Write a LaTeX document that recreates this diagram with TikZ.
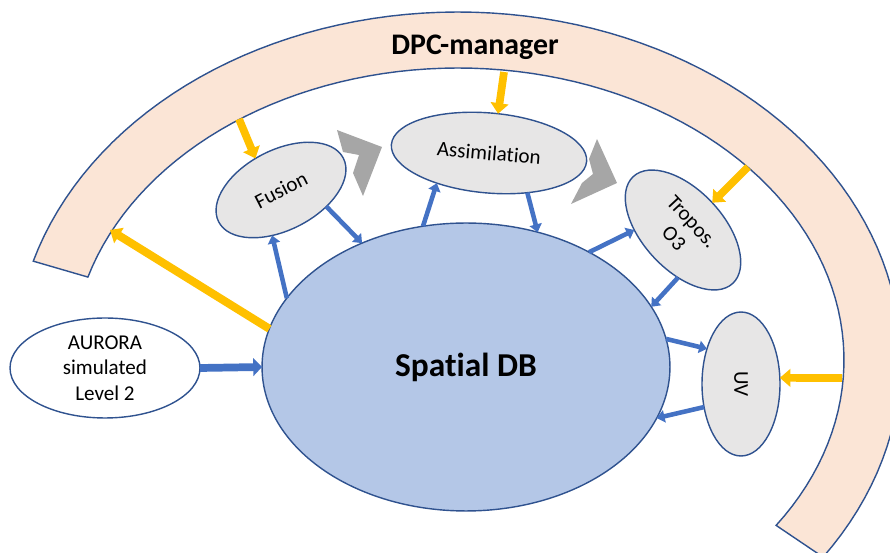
\documentclass[tikz,border=0pt]{standalone}
\usepackage{fontspec}
\setmainfont{Carlito}[Ligatures=NoCommon]
\usepackage{xcolor}
\definecolor{bandfill}  {HTML}{FBE5D6}
\definecolor{edge}      {HTML}{2F528F}
\definecolor{dbfill}    {HTML}{B4C7E7}
\definecolor{procfill}  {HTML}{E7E6E6}
\definecolor{ctrl}      {HTML}{FFC000}
\definecolor{flow}      {HTML}{4472C4}
\definecolor{chev}      {HTML}{A6A6A6}
\usetikzlibrary{arrows.meta, shapes.geometric}

\begin{document}
\begin{tikzpicture}[x=0.02cm, y=-0.02cm,
    every node/.style={ellipse, draw=edge, line width=0.8pt,
                       inner sep=0pt, outer sep=0pt},
    proc/.style={fill=procfill, font=\fontsize{12}{14}\selectfont},
    ctrlarrow/.style={draw=ctrl, line width=4.4pt,
                      -{Triangle[width=10pt, length=6pt]}},
    flowarrow/.style={draw=flow, line width=2.6pt,
                      -{Triangle[width=7pt, length=4.5pt]}}]

    \useasboundingbox (0,0) rectangle (890,553);
    \clip (0,0) rectangle (890,553);

    % --- DPC-manager band round the picture
    \draw[edge, fill=bandfill, line width=0.8pt]
        plot[domain=163.5:-34.5, samples=90] ({458+443*cos(\x)}, {360-348*sin(\x)})
        -- plot[domain=-34.5:163.5, samples=90] ({458+386*cos(\x)}, {360-292*sin(\x)})
        -- cycle;
    \node[draw=none, font=\bfseries\fontsize{17}{20}\selectfont] (mgr) at (475,47) {DPC-manager};

    % --- grey chevrons between the processors
    \fill[chev] (337,130) -- (382,147) -- (363,196) -- (353,173) -- (359,155) -- (343,152) -- cycle;
    \fill[chev] (597,139) -- (617,183) -- (571,204) -- (582,183) -- (593,174) -- (589,159) -- cycle;

    % --- database and processors
    \node[fill=dbfill, minimum width=8.16cm, minimum height=5.76cm,
          font=\bfseries\fontsize{19}{22}\selectfont] (db) at (466,367) {Spatial DB};
    \node[fill=white, minimum width=3.8cm, minimum height=2cm, align=center,
          font=\fontsize{12}{14.4}\selectfont] (aurora) at (105,368) {AURORA\\simulated\\Level 2};
    \node[proc, minimum width=2.8cm, minimum height=1.6cm, rotate=27] (fusion) at (281,190) {Fusion};
    \node[proc, minimum width=3.92cm, minimum height=1.6cm, rotate=-5] (assim) at (489,153) {Assimilation};
    \node[proc, minimum width=2.92cm, minimum height=1.6cm, rotate=-47, align=center] (tropos) at (683,230) {Tropos.\\O3};
    \node[proc, minimum width=2.88cm, minimum height=1.56cm, rotate=-90] (uv) at (741,384) {UV};

    % --- control arrows from and to the manager
    \coordinate (c1) at (239,119);
    \coordinate (c2) at (504,72);
    \coordinate (c3) at (748,167);
    \coordinate (c4) at (842,378);
    \coordinate (c5) at (110,230);
    \draw[ctrlarrow] (c1) -- (fusion.102);
    \draw[ctrlarrow] (c2) -- (assim.82);
    \draw[ctrlarrow] (c3) -- (tropos.90);
    \draw[ctrlarrow] (c4) -- (uv.99);
    \draw[ctrlarrow, line width=4.6pt] (db.169) -- (c5);

    % --- data flow between database and processors
    \draw[flowarrow] (db.159) -- (fusion.-128);
    \draw[flowarrow] (fusion.-47) -- (db.130);
    \draw[flowarrow] (db.107) -- (assim.215);
    \draw[flowarrow] (assim.-41) -- (db.62);
    \draw[flowarrow] (db.43) -- (tropos.227);
    \draw[flowarrow] (tropos.-49) -- (db.18);
    \draw[flowarrow] (db.8) -- (uv.224);
    \draw[flowarrow] (uv.302) -- (db.-15);
    \draw[flowarrow, line width=4.4pt, -{Triangle[width=10pt, length=5pt]}] (aurora.east) -- (db.west);
\end{tikzpicture}
\end{document}
